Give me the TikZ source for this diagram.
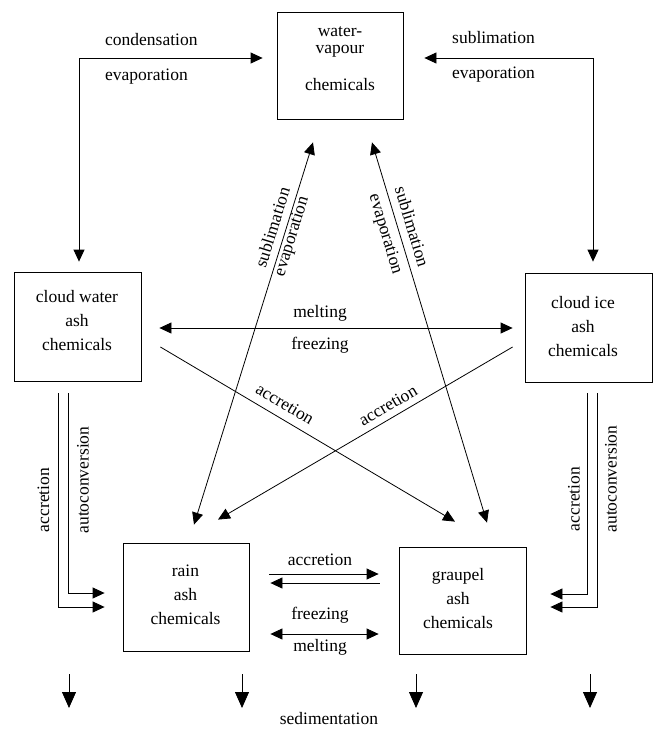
\documentclass[tikz,border=0pt]{standalone}
\usepackage{fontspec}
\setmainfont{Liberation Serif}
\usetikzlibrary{arrows.meta}
\begin{document}
\begin{tikzpicture}[x=1pt,y=-1pt,
  every node/.style={font=\fontsize{17.5}{24}\selectfont, inner sep=0pt},
  box/.style={draw, line width=0.8pt, minimum width=126pt, minimum height=108pt},
  boxtext/.style={align=center},
  conn/.style={line width=0.8pt},
  arr/.style={conn, -{Triangle[length=12pt,width=11pt]}},
  dbl/.style={conn, {Triangle[length=12pt,width=11pt]}-{Triangle[length=12pt,width=11pt]}},
  sarr/.style={conn, -{Triangle[length=16pt,width=14pt]}}]
\useasboundingbox (0,0) rectangle (654,731);

% boxes
\node[box, minimum height=107pt] (vap) at (340,65.5) {};
\node[boxtext, font=\fontsize{17.5}{17}\selectfont] (vapt) at (340,42) {water-\\vapour};
\node (vapc) at (340,85) {chemicals};
\node[box, minimum width=127pt, minimum height=109pt] (cw) at (77.5,326.5) {};
\node[boxtext] (cwt) at (77,320.5) {cloud water\\ash\\chemicals};
\node[box, minimum width=127pt, minimum height=109pt] (ci) at (588.5,327.5) {};
\node[boxtext] (cit) at (583,326.5) {cloud ice\\ash\\chemicals};
\node[box] (rain) at (186,597) {};
\node[boxtext] (raint) at (185.5,595) {rain\\ash\\chemicals};
\node[box, minimum width=127pt, minimum height=107pt] (grau) at (462.5,600.5) {};
\node[boxtext] (graut) at (458,599) {graupel\\ash\\chemicals};

% top connectors
\draw[dbl, shorten <=10pt, shorten >=14pt] ([xshift=1.5pt]cw.north) |- ([yshift=7.5pt]vap.west);
\node[anchor=west] (cond) at (105,40) {condensation};
\node[anchor=west] (evap1) at (105,77) {evaporation};
\draw[dbl, shorten <=11pt, shorten >=21pt] ([xshift=4.5pt]ci.north) |- ([yshift=7.5pt]vap.east);
\node[anchor=west] (subl1) at (452,38) {sublimation};
\node[anchor=west] (evap2) at (452,75) {evaporation};

% melting / freezing between cloud water and cloud ice
\draw[dbl, shorten <=18pt, shorten >=12pt] ([yshift=-1.5pt]cw.east) -- ([yshift=-1.5pt]cw.east -| ci.west);
\node (melt1) at (320,313) {melting};
\node (frz1) at (320,345) {freezing};

% crossing accretion arrows
\draw[arr] ([shift={(19,20.5)}]cw.east) -- ([shift={(-7.5,-25)}]grau.north);
\node[rotate=-30.7] (acc1) at (285,404) {accretion};
\draw[arr] ([shift={(-12,19.5)}]ci.west) -- ([shift={(32,-23)}]rain.north);
\node[rotate=30.4] (acc2) at (388,405.5) {accretion};

% sublimation / evaporation diagonals
\draw[dbl] ([shift={(8,-18)}]rain.north) -- ([shift={(-27,23)}]vap.south);
\node[rotate=72.7] (subl2) at (272.3,227.3) {sublimation};
\node[rotate=72.7] (evap3) at (292.3,236.7) {evaporation};
\draw[dbl] ([shift={(24.5,-24)}]grau.north) -- ([shift={(32,23)}]vap.south);
\node[rotate=-73.2] (subl3) at (412.3,226.7) {sublimation};
\node[rotate=-73.2] (evap4) at (385,234.3) {evaporation};

% cloud water -> rain
\draw[arr] ([shift={(-9.5,12)}]cw.south) |- ([shift={(-18,-4)}]rain.west);
\draw[arr] ([shift={(-19.5,12)}]cw.south) |- ([shift={(-18,10)}]rain.west);
\node[rotate=90] (lacc) at (43.5,500) {accretion};
\node[rotate=90] (laut) at (83,480) {autoconversion};

% cloud ice -> graupel
\draw[arr] ([shift={(-1.5,11)}]ci.south) |- ([shift={(24,-6.5)}]grau.east);
\draw[arr] ([shift={(8.5,11)}]ci.south) |- ([shift={(24,6.5)}]grau.east);
\node[rotate=90] (racc) at (574,499) {accretion};
\node[rotate=90] (raut) at (611,479) {autoconversion};

% rain <-> graupel
\draw[arr, shorten <=20pt, shorten >=20pt] ([yshift=23pt]rain.east) -- ([yshift=23pt]rain.east -| grau.west);
\draw[arr, shorten <=19pt, shorten >=21pt] ([yshift=14pt]rain.east -| grau.west) -- ([yshift=14pt]rain.east);
\node (acc3) at (320,560) {accretion};
\draw[dbl, shorten <=21pt, shorten >=20pt] ([yshift=-37pt]rain.east) -- ([yshift=-37pt]rain.east -| grau.west);
\node (frz2) at (320,615) {freezing};
\node (melt2) at (320,647) {melting};

% sedimentation
\coordinate (sd1) at (69,674);
\coordinate (sd2) at (242,674);
\coordinate (sd3) at (416,674);
\coordinate (sd4) at (590,674);
\foreach \c in {sd1,sd2,sd3,sd4} \draw[sarr] (\c) -- ++(0,34);
\node (sed) at (329,719) {sedimentation};
\end{tikzpicture}
\end{document}
